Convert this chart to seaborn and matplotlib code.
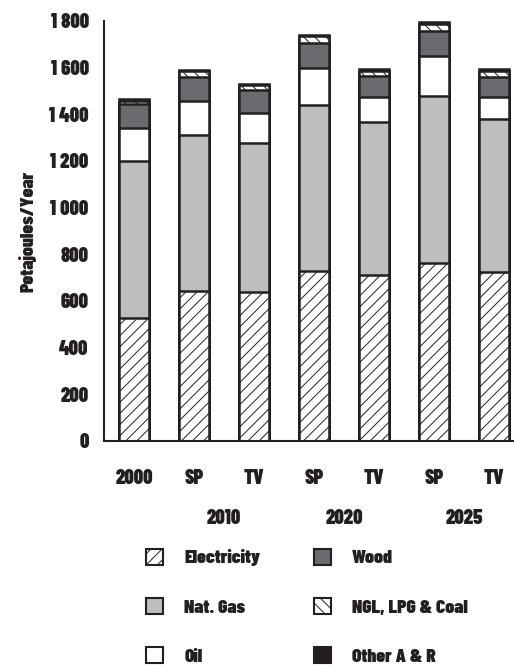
import numpy as np
import pandas as pd
import matplotlib
matplotlib.use("Agg")
import matplotlib.pyplot as plt
from matplotlib.patches import Patch
import seaborn as sns

# scenario keys (unique) and the labels shown under each bar
scenarios = ["2000", "SP 2010", "TV 2010", "SP 2020", "TV 2020", "SP 2025", "TV 2025"]
bar_labels = ["2000", "SP", "TV", "SP", "TV", "SP", "TV"]
year_labels = ["2010", "2020", "2025"]

# energy use, petajoules/year (bottom to top)
electricity = [528, 644, 639, 730, 713, 761, 724]
nat_gas = [672, 667, 640, 709, 654, 719, 657]
oil = [143, 148, 127, 160, 106, 170, 95]
wood = [100, 102, 98, 108, 91, 106, 83]
ngl_lpg_coal = [15, 23, 20, 28, 23, 32, 28]
other_ar = [6, 6, 6, 6, 6, 6, 6]

sns.set_theme(style="white")
plt.rcParams["font.family"] = ["Barlow Condensed", "DejaVu Sans"]
plt.rcParams["font.weight"] = 900
plt.rcParams["axes.labelweight"] = 900
plt.rcParams["hatch.linewidth"] = 0.7

ink = "#231f20"
layers = [
    ("Electricity", electricity, "white", "///"),
    ("Nat. Gas", nat_gas, "#bdbec0", None),
    ("Oil", oil, "white", None),
    ("Wood", wood, "#6a6b6e", None),
    ("NGL, LPG & Coal", ngl_lpg_coal, "white", "\\\\\\"),
    ("Other A & R", other_ar, ink, None),
]

df = pd.DataFrame({"scenario": scenarios})
tops = np.cumsum([l[1] for l in layers], axis=0)
for (name, _, _, _), top in zip(layers, tops):
    df[name] = top

fig = plt.figure(figsize=(5.14, 6.68), dpi=100)
ax = fig.add_axes([104 / 514, 1 - 441 / 668, 1 - 104 / 514, 420 / 668])

# stacked bars: draw cumulative totals from the top layer down
for (name, _, color, hatch) in reversed(layers):
    sns.barplot(data=df, x="scenario", y=name, order=scenarios, color=color,
                saturation=1, width=0.5, edgecolor=ink, linewidth=1.8,
                hatch=hatch, errorbar=None, ax=ax)

ax.set_xlim(-0.5, 6.333)
ax.set_ylim(0, 1800)
ax.set_yticks(range(0, 1801, 200))
ax.set_yticklabels([f"{v:,}".replace(",", "\u2009") for v in range(0, 1801, 200)])
ax.set_xticks(range(len(scenarios)))
ax.set_xticklabels(bar_labels)
ax.set_xticks(np.arange(-0.5, 6, 1), minor=True)
ax.tick_params(axis="x", which="major", length=0, pad=20, labelsize=14.5, colors=ink)
ax.tick_params(axis="x", which="minor", length=9.5, width=1.2, color=ink, direction="out")
ax.tick_params(axis="y", length=9, width=1.2, color=ink, direction="out",
               labelsize=14.5, labelcolor=ink, pad=2)
ax.set_xlabel("")
ax.set_ylabel("Petajoules/Year", fontsize=14, color=ink, labelpad=9)
for side in ["top", "right"]:
    ax.spines[side].set_visible(False)
for side in ["left", "bottom"]:
    ax.spines[side].set_color(ink)
    ax.spines[side].set_linewidth(1.5)

# decade labels centred under each SP/TV pair
for i, yl in enumerate(year_labels):
    ax.annotate(yl, xy=(1.5 + 2 * i, 0), xycoords=("data", "axes fraction"),
                xytext=(0, -77), textcoords="offset pixels", ha="center", va="center",
                fontsize=14.5, color=ink, annotation_clip=False)

handles = [Patch(facecolor=c, edgecolor=ink, linewidth=1.5, hatch=h, label=n)
           for n, _, c, h in layers]
fig.legend(handles=handles, ncol=2, loc="upper left", bbox_to_anchor=(136 / 514, 1 - 539 / 668),
           frameon=False, fontsize=14, handlelength=0.88, handleheight=0.88,
           handletextpad=1.1, labelspacing=1.62, columnspacing=2.75, labelcolor=ink,
           borderpad=0)

fig.savefig("out.png", dpi=100)
